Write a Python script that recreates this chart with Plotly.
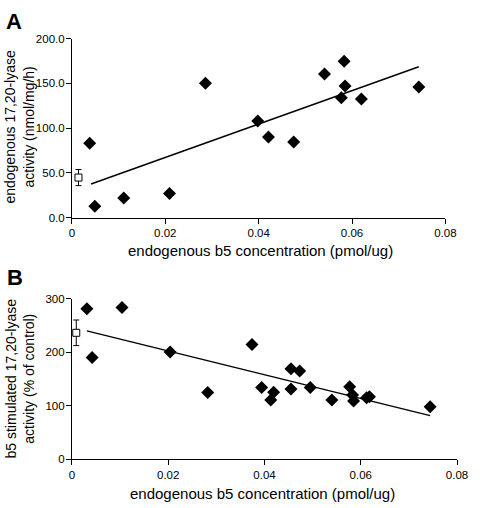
import plotly.graph_objects as go

# Panel A data
a_x = [0.0038, 0.0049, 0.0111, 0.0209, 0.0286, 0.0398, 0.0421, 0.0475, 0.0541,
       0.0577, 0.0583, 0.0585, 0.0620, 0.0743]
a_y = [83, 12.7, 21.8, 26.9, 149.9, 108, 89.9, 84.4, 160.4,
       133.9, 174.6, 147, 132.4, 145.9]
a_ctrl_x = [0.0014]
a_ctrl_y = [44.7]
a_ctrl_err = [9]
a_fit_x = [0.0041, 0.0743]
a_fit_y = [37.5, 168.4]

# Panel B data
b_x = [0.0031, 0.0042, 0.0104, 0.0204, 0.0282, 0.0374, 0.0394, 0.0413, 0.0419,
       0.0455, 0.0455, 0.0473, 0.0495, 0.0540, 0.0577, 0.0583, 0.0585, 0.0612,
       0.0618, 0.0744]
b_y = [281.7, 190, 284, 200.4, 124.6, 214.5, 133.8, 110.6, 125.3,
       169.2, 131.4, 165, 133.8, 110.6, 135.6, 119.8, 108.8, 114.9,
       116.7, 97.8]
b_ctrl_x = [0.0009]
b_ctrl_y = [236.5]
b_ctrl_err = [24]
b_fit_x = [0.0031, 0.0744]
b_fit_y = [240.1, 81.3]

x_ticks = [0, 0.02, 0.04, 0.06, 0.08]
x_tick_labels = ["0", "0.02", "0.04", "0.06", "0.08"]
a_y_ticks = [0, 50, 100, 150, 200]
a_y_tick_labels = ["0.0", "50.0", "100.0", "150.0", "200.0"]
b_y_ticks = [0, 100, 200, 300]
b_y_tick_labels = ["0", "100", "200", "300"]

W, H = 480, 508
FONT = "Liberation Sans, Arial, sans-serif"

fig = go.Figure()

def add_panel(xs, ys, cx, cy, cerr, fx, fy, xa, ya):
    fig.add_trace(go.Scatter(x=fx, y=fy, mode="lines", line=dict(color="black", width=1.5),
                             xaxis=xa, yaxis=ya, showlegend=False, hoverinfo="skip"))
    fig.add_trace(go.Scatter(x=xs, y=ys, mode="markers",
                             marker=dict(symbol="diamond", size=10, color="black"),
                             xaxis=xa, yaxis=ya, showlegend=False))
    fig.add_trace(go.Scatter(x=cx, y=cy, mode="markers",
                             marker=dict(symbol="square", size=7, color="white",
                                         line=dict(color="black", width=1)),
                             error_y=dict(type="data", array=cerr, color="black",
                                          thickness=1, width=3),
                             xaxis=xa, yaxis=ya, showlegend=False))

add_panel(a_x, a_y, a_ctrl_x, a_ctrl_y, a_ctrl_err, a_fit_x, a_fit_y, "x", "y")
add_panel(b_x, b_y, b_ctrl_x, b_ctrl_y, b_ctrl_err, b_fit_x, b_fit_y, "x2", "y2")

axis_common = dict(showline=True, linecolor="black", linewidth=1, ticks="outside",
                   ticklen=5, tickcolor="black", tickwidth=1, showgrid=False,
                   zeroline=False, tickfont=dict(family=FONT, size=11.5, color="black"))

fig.update_layout(
    width=W, height=H,
    margin=dict(l=0, r=0, t=0, b=0),
    plot_bgcolor="white", paper_bgcolor="white",
    xaxis=dict(domain=[71 / W, 455.7 / W], range=[0, 0.08], tickvals=x_ticks,
               ticktext=x_tick_labels, anchor="y", **axis_common),
    yaxis=dict(domain=[1 - 216.7 / H, 1 - 33.3 / H], range=[0, 200], tickvals=a_y_ticks,
               ticktext=a_y_tick_labels, anchor="x", ticklabelstandoff=-1, **axis_common),
    xaxis2=dict(domain=[71 / W, 467.7 / W], range=[0, 0.08], tickvals=x_ticks,
                ticktext=x_tick_labels, anchor="y2", **axis_common),
    yaxis2=dict(domain=[1 - 464 / H, 1 - 300 / H], range=[0, 300], tickvals=b_y_ticks,
                ticktext=b_y_tick_labels, anchor="x2", ticklabelstandoff=-1, **axis_common),
)

def ann(text, px, py, size=15, angle=0, bold=False):
    fig.add_annotation(text=f"<b>{text}</b>" if bold else text,
                       x=px / W, y=1 - py / H, xref="paper", yref="paper",
                       xanchor="center", yanchor="middle", showarrow=False,
                       textangle=angle, font=dict(family=FONT, size=size, color="black"))

ann("endogenous b5 concentration (pmol/ug)", 265, 250)
ann("endogenous b5 concentration (pmol/ug)", 267, 499)
ann("endogenous 17,20-lyase<br>activity (nmol/mg/h)", 17, 124, size=14, angle=-90)
ann("b5 stimulated 17,20-lyase<br>activity (% of control)", 17, 382, size=14, angle=-90)
ann("A", 11, 15.5, size=22, bold=True)
ann("B", 12, 278.3, size=22, bold=True)

fig.write_html("out.html", config={"displayModeBar": False},
               post_script="document.body.style.margin='0';document.body.style.padding='0';")
